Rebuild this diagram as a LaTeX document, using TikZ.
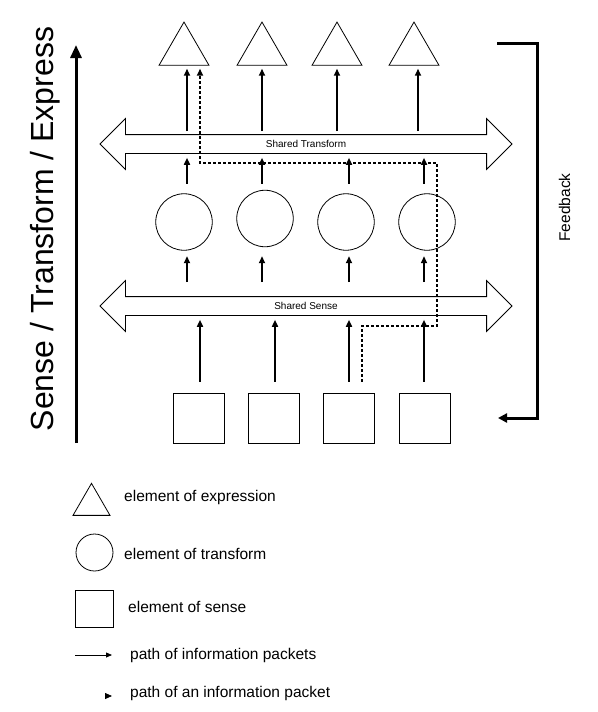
\documentclass[tikz,border=0pt]{standalone}
\usepackage{fontspec}
\setmainfont{Liberation Sans}
\usetikzlibrary{shapes.geometric,shapes.arrows,arrows.meta}

\begin{document}
\begin{tikzpicture}[x=1pt,y=-1pt,
  expr/.style={draw, regular polygon, regular polygon sides=3, minimum size=57.7pt, inner sep=0pt, line width=0.8pt},
  trans/.style={draw, circle, minimum size=56.5pt, inner sep=0pt, line width=0.8pt},
  sense/.style={draw, rectangle, minimum width=51pt, minimum height=50pt, inner sep=0pt, line width=0.8pt},
  shared/.style={draw, double arrow, double arrow head extend=16pt, minimum width=50pt, minimum height=412pt,
    text height=7pt, text depth=0pt, inner ysep=5.5pt, font=\fontsize{10}{12}\selectfont, line width=0.8pt},
  flow/.style={-{Triangle[width=6pt,length=7pt]}, line width=1.6pt},
  packet/.style={flow, dash pattern=on 3pt off 2pt},
  lab/.style={font=\fontsize{15.5}{18}\selectfont, anchor=west, inner xsep=0pt}]
  \useasboundingbox (0,0) rectangle (597,712);

  % three layers
  \foreach \i/\x in {1/184,2/262,3/337,4/414}
    \node[expr] (t\i) at (\x,50.9) {};
  \foreach \i/\x/\y in {1/184/222,2/265/218.5,3/346/222,4/427/222}
    \node[trans] (c\i) at (\x,\y) {};
  \foreach \i/\x in {1/198.5,2/273.5,3/348.5,4/424.5}
    \node[sense] (s\i) at (\x,418) {};
  \node[shared] (trbar) at (306,144) {Shared Transform};
  \node[shared] (sebar) at (306,306) {Shared Sense};

  % information flow
  \foreach \i/\dx in {1/3,2/0,3/0,4/4}
    \draw[flow] ([xshift=\dx pt,yshift=3pt]t\i.south |- trbar.north) -- ([xshift=\dx pt,yshift=-3pt]t\i.south);
  \foreach \i/\dx in {1/3,2/-3,3/3,4/-3}
    \draw[flow] ([xshift=\dx pt,yshift=-30pt]c\i.center |- trbar.south) -- ([xshift=\dx pt,yshift=-4pt]c\i.center |- trbar.south);
  \foreach \i/\dx in {1/3,2/-3,3/3,4/-3}
    \draw[flow] ([xshift=\dx pt,yshift=14pt]c\i.center |- sebar.north) -- ([xshift=\dx pt,yshift=40pt]c\i.center |- sebar.north);
  \foreach \i/\dx in {1/1.5,2/1.5,3/0.5,4/-0.5}
    \draw[flow] ([xshift=\dx pt,yshift=11pt]s\i.north) -- ([xshift=\dx pt,yshift=-4pt]s\i.north |- sebar.south);

  % one packet
  \coordinate (pk0) at ([xshift=13.5pt,yshift=11pt]s3.north);
  \coordinate (pk1) at ([xshift=10pt,yshift=-10pt]c4.center |- sebar.south);
  \coordinate (pk2) at ([yshift=-9pt]pk1 |- trbar.south);
  \coordinate (pk3) at ([xshift=16pt,yshift=-3pt]t1.south);
  \draw[packet] (pk0) |- (pk1) -- (pk2) -| (pk3);

  % axis and feedback
  \coordinate (axbot) at (76,443);
  \coordinate (axtop) at (76,45);
  \draw[-{Triangle[width=11pt,length=13pt]}, line width=3pt] (axbot) -- (axtop);
  \node[rotate=90, anchor=base, font=\fontsize{32}{36}\selectfont] (axlab) at (53,229) {Sense / Transform / Express};
  \coordinate (fbtop) at (497,43);
  \coordinate (fbbot) at (498,418);
  \draw[-{Triangle[width=9pt,length=9pt]}, line width=3pt] (fbtop) -- ++(40,0) |- (fbbot);
  \node[rotate=90, anchor=base, font=\fontsize{15.5}{18}\selectfont] (fblab) at (570,207.5) {Feedback};

  % legend
  \node[expr, minimum size=42.7pt] (lt) at (91.5,504.7) {};
  \node[lab] at (124,497) {element of expression};
  \node[trans, minimum size=37pt] (lc) at (94.5,552.5) {};
  \node[lab] at (124,554) {element of transform};
  \node[sense, minimum width=38pt, minimum height=37pt] (ls) at (94,608.5) {};
  \node[lab] at (128,607) {element of sense};
  \coordinate (la0) at (75,655);
  \coordinate (la1) at (112,655);
  \draw[-{Triangle[width=5pt,length=6pt]}, line width=0.8pt] (la0) -- (la1);
  \node[lab] at (130,655) {path of information packets};
  \coordinate (lp0) at (105,696);
  \coordinate (lp1) at (112,696);
  \draw[-{Triangle[width=6pt,length=7pt]}, line width=0.8pt] (lp0) -- (lp1);
  \node[lab] at (130,693) {path of an information packet};
\end{tikzpicture}
\end{document}
